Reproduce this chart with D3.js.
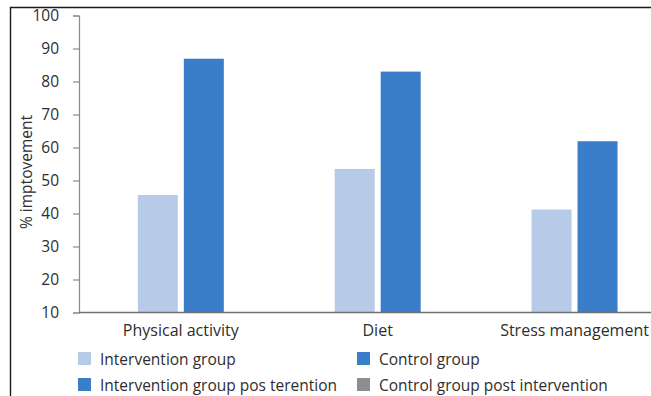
<!DOCTYPE html>
<html>
<head>
<meta charset="utf-8">
<script src="https://cdn.jsdelivr.net/npm/d3@7"></script>
<style>
  html, body { margin: 0; padding: 0; background: #fff; }
  svg { display: block; font-family: "Open Sans", sans-serif; }
</style>
</head>
<body>
<svg id="chart" width="651" height="396"></svg>
<script>
// Categories along the x axis
const categories = ["Physical activity", "Diet", "Stress management"];

// Series plotted as bars (percent improvement)
const interventionGroup = [45.6, 53.5, 41.2];
const interventionGroupPost = [86.9, 83.0, 61.9];

// Y axis ticks
const yTicks = [10, 20, 30, 40, 50, 60, 70, 80, 90, 100];

// Legend entries, in two columns
const legendLabels = [
  "Intervention group",
  "Control group",
  "Intervention group pos terention",
  "Control group post intervention"
];
const legendColors = ["#b7cbe8", "#3a7dc9", "#3a7dc9", "#8e8e92"];

const barSeries = [
  { name: "Intervention group", values: interventionGroup, color: "#b7cbe8" },
  { name: "Intervention group pos terention", values: interventionGroupPost, color: "#3a7dc9" }
];

const W = 651, H = 396;
const svg = d3.select("#chart");

const axisX = 79, plotBottom = 312.5, plotTop = 15.5;

const y = d3.scaleLinear().domain([10, 100]).range([plotBottom, plotTop]);

const x0 = d3.scaleBand().domain(categories).range([82.4, 672.95]).padding(0);
const x1 = d3.scaleBand()
  .domain(barSeries.map(s => s.name))
  .range([x0.bandwidth() / 2 - 43, x0.bandwidth() / 2 + 43])
  .paddingInner(0.1304);

// Outer frame (top and left rules)
svg.append("path")
  .attr("d", `M10.5,${H} L10.5,7.5 L${W},7.5`)
  .attr("fill", "none")
  .attr("stroke", "#1a1a1a")
  .attr("stroke-width", 1.4);

// Bars
const groups = svg.append("g").selectAll("g")
  .data(categories)
  .join("g")
  .attr("transform", d => `translate(${x0(d)},0)`);

groups.selectAll("rect")
  .data((d, i) => barSeries.map(s => ({ name: s.name, value: s.values[i], color: s.color })))
  .join("rect")
  .attr("x", d => x1(d.name))
  .attr("width", x1.bandwidth())
  .attr("y", d => y(d.value))
  .attr("height", d => y(10) - y(d.value))
  .attr("fill", d => d.color);

// Y axis
const yAxis = svg.append("g")
  .attr("transform", `translate(${axisX},0)`)
  .call(d3.axisLeft(y).tickValues(yTicks).tickSize(6).tickSizeOuter(6).tickPadding(14));
yAxis.select(".domain").attr("stroke", "#8a8a8a").attr("stroke-width", 1.2);
yAxis.selectAll(".tick line").attr("stroke", "#8a8a8a").attr("stroke-width", 1.2);
yAxis.selectAll(".tick text")
  .attr("fill", "#2e2e2e")
  .style("font-size", "15.5px")
  .style("font-family", "'Open Sans', sans-serif");

// X baseline
svg.append("line")
  .attr("x1", axisX).attr("x2", W)
  .attr("y1", y(10)).attr("y2", y(10))
  .attr("stroke", "#6f6f6f")
  .attr("stroke-width", 1.3);

// Category labels
svg.append("g").selectAll("text")
  .data(categories)
  .join("text")
  .attr("x", d => x0(d) + x0.bandwidth() / 2)
  .attr("y", 336)
  .attr("text-anchor", "middle")
  .attr("fill", "#2e2e2e")
  .style("font-size", "16px")
  .text(d => d);

// Y axis title
svg.append("text")
  .attr("transform", `translate(32,${(plotTop + plotBottom) / 2 + 8}) rotate(-90)`)
  .attr("text-anchor", "middle")
  .attr("fill", "#2e2e2e")
  .style("font-size", "15.5px")
  .text("% imptovement");

// Legend
const legendCols = [78, 357];
const legendRows = [352, 378];
const legend = svg.append("g").selectAll("g")
  .data(legendLabels)
  .join("g")
  .attr("transform", (d, i) => `translate(${legendCols[i % 2]},${legendRows[Math.floor(i / 2)]})`);
legend.append("rect")
  .attr("width", 13).attr("height", 13)
  .attr("fill", (d, i) => legendColors[i]);
legend.append("text")
  .attr("x", 22).attr("y", 12.5)
  .attr("fill", "#2e2e2e")
  .style("font-size", "15.5px")
  .text(d => d);
</script>
</body>
</html>
